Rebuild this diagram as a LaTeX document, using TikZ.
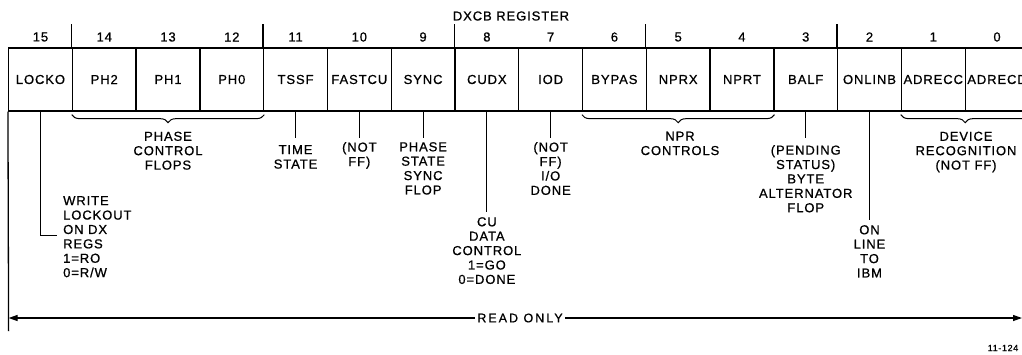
\documentclass[tikz,border=0pt]{standalone}
\usepackage{fontspec}
\newfontfamily\regfont{Liberation Sans}[LetterSpace=7,FakeBold=0.8]
\newfontfamily\rofont{Liberation Sans}[LetterSpace=16,FakeBold=0.8]
\usetikzlibrary{decorations.pathreplacing,arrows.meta}
\begin{document}
\begin{tikzpicture}[x=1pt,y=-1pt,
  txt/.style={font=\regfont\fontsize{13}{14.4}\selectfont},
  cell/.style={txt,draw,line width=1.3pt,minimum width=63.77pt,minimum height=63pt,inner sep=0pt},
  bitnum/.style={txt,inner sep=0pt},
  lab/.style={txt,align=center,inner sep=0pt},
  lead/.style={line width=1pt},
  sepline/.style={line width=1.3pt},
  br/.style={line width=1pt,decorate,decoration={brace,mirror,amplitude=8pt}},
  roarrow/.style={line width=1.2pt,-{Triangle[length=9pt,width=6pt]}}
]
\useasboundingbox (0,0) rectangle (1022,354);
\clip (0,0) rectangle (1022,354);

\node[txt,inner sep=0pt] (title) at (511,16) {DXCB REGISTER};

\foreach \b/\t in {15/LOCKO,14/PH2,13/PH1,12/PH0,11/TSSF,10/FASTCU,9/SYNC,8/CUDX,7/IOD,6/BYPAS,5/NPRX,4/NPRT,3/BALF,2/ONLINB,1/ADRECC,0/ADRECD}{
  \pgfmathsetmacro\cx{8.6+(15.5-\b)*63.77}
  \node[cell] (c\b) at (\cx,79.5) {\t};
  \node[bitnum] (n\b) at (\cx,37) {\b};
}

% tall separators above the register
\foreach \b in {14,11,8,5,2}{
  \draw[sepline] (c\b.north west) -- ++(0,-23);
}

% braces
\draw[br] ([yshift=-3pt]c14.south west) -- ([yshift=-3pt]c12.south east);
\draw[br] ([yshift=-3pt]c6.south west) -- ([yshift=-3pt]c4.south east);
\draw[br] ([yshift=-3pt]c1.south west) -- ([yshift=-3pt]c0.south east);

\node[lab,anchor=north] (lph) at (168,131.5) {PHASE\\CONTROL\\FLOPS};
\node[lab,anchor=north] (lnpr) at (680,131.5) {NPR\\CONTROLS};
\node[lab,anchor=north] (ldev) at (966,131.5) {DEVICE\\RECOGNITION\\(NOT FF)};

% single-bit labels
\node[lab,anchor=north west,align=left] (l15) at (63,196) {WRITE\\LOCKOUT\\ON DX\\REGS\\1=RO\\0=R/W};
\coordinate (k15) at (57,235);
\draw[lead] (c15.south) |- (k15);

\node[lab,anchor=north] (l11) at (c11.south |- 0,145) {TIME\\STATE};
\draw[lead,shorten >=7pt] (c11.south) -- (l11.north);

\node[lab,anchor=north] (l10) at (c10.south |- 0,142) {(NOT\\FF)};
\draw[lead,shorten >=4pt] (c10.south) -- (l10.north);

\node[lab,anchor=north] (l9) at (c9.south |- 0,142) {PHASE\\STATE\\SYNC\\FLOP};
\draw[lead,shorten >=4pt] (c9.south) -- (l9.north);

\node[lab,anchor=north] (l8) at (c8.south |- 0,217) {CU\\DATA\\CONTROL\\1=GO\\0=DONE};
\draw[lead,shorten >=5pt] (c8.south) -- (l8.north);

\node[lab,anchor=north] (l7) at (c7.south |- 0,142) {(NOT\\FF)\\I/O\\DONE};
\draw[lead,shorten >=4pt] (c7.south) -- (l7.north);

\node[lab,anchor=north] (l3) at (c3.south |- 0,145) {(PENDING\\STATUS)\\BYTE\\ALTERNATOR\\FLOP};
\draw[lead,shorten >=7pt] (c3.south) -- (l3.north);

\node[lab,anchor=north] (l2) at (c2.south |- 0,225) {ON\\LINE\\TO\\IBM};
\draw[lead,shorten >=5pt] (c2.south) -- (l2.north);

% read only
\coordinate (lb) at (8.6,331);
\draw[sepline] (c15.south west) -- (lb);
\node[font=\rofont\fontsize{12.5}{14}\selectfont,inner sep=2.5pt] (ro) at (520,318) {READ ONLY};
\coordinate (roL) at (8.6,318);
\coordinate (roR) at (1022,318);
\draw[roarrow] (ro.west) -- (roL);
\draw[roarrow] (ro.east) -- (roR);

\node[font=\regfont\fontsize{9}{10}\selectfont,inner sep=0pt] (fig) at (1003,348) {11-124};
\end{tikzpicture}
\end{document}
